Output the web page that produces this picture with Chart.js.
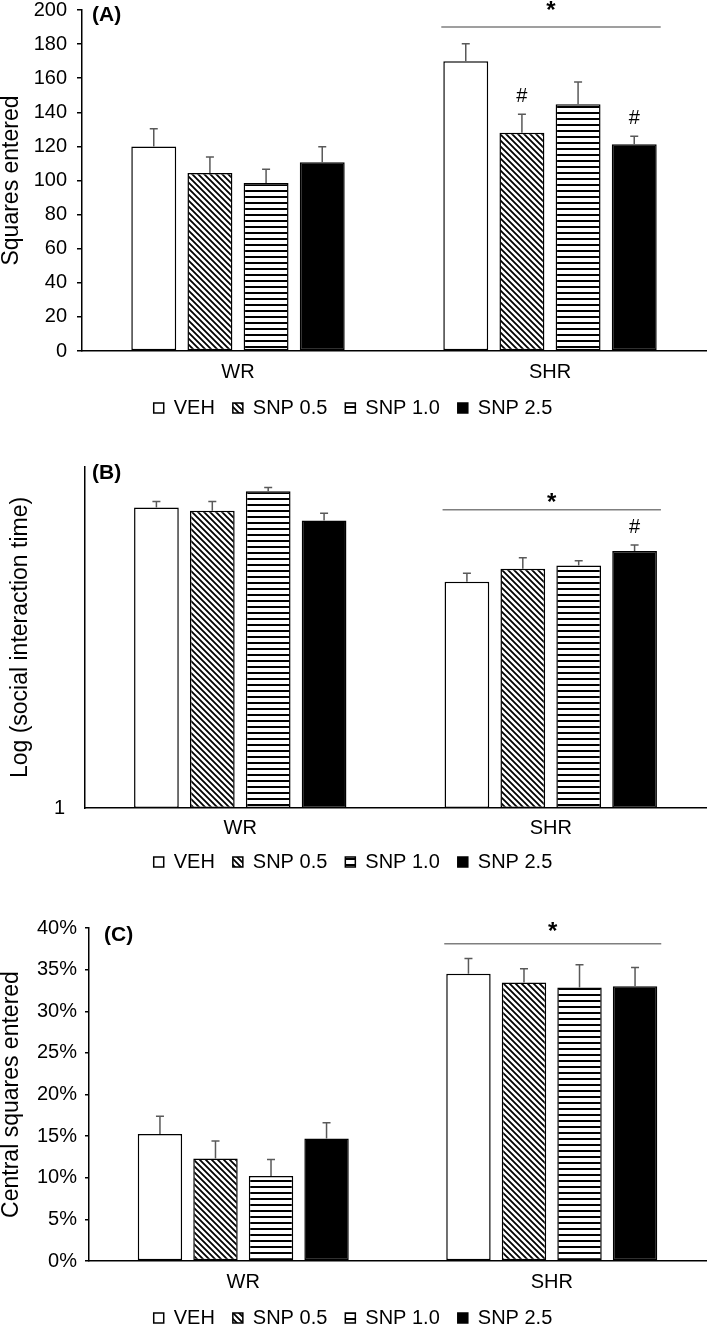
<!DOCTYPE html>
<html>
<head>
<meta charset="utf-8">
<script src="https://cdn.jsdelivr.net/npm/chart.js@4.4.0/dist/chart.umd.min.js"></script>
<style>
html, body { margin: 0; padding: 0; background: #fff; overflow: hidden; width: 709px; height: 1326px; }
.panel { position: absolute; left: 0; width: 709px; }
</style>
</head>
<body>
<div class="panel" style="top:0;height:428px"><canvas id="chartA" width="709" height="428"></canvas></div>
<div class="panel" style="top:428px;height:454px"><canvas id="chartB" width="709" height="454"></canvas></div>
<div class="panel" style="top:882px;height:456px"><canvas id="chartC" width="709" height="456"></canvas></div>
<script>
Chart.defaults.font.family = "'Liberation Sans', Arial, sans-serif";
Chart.defaults.color = '#000';
Chart.defaults.animation = false;

// Categories and series
const groups = ['WR', 'SHR'];
const seriesNames = ['VEH', 'SNP 0.5', 'SNP 1.0', 'SNP 2.5'];

// (A) Squares entered, [WR, SHR]
const squaresVEH = [120, 170];
const squaresSNP05 = [104.4, 128];
const squaresSNP10 = [98.5, 144.7];
const squaresSNP25 = [110.7, 121.2];
const squaresErr = [[10.4, 10.2], [9.4, 10.8], [8.1, 13.1], [9.1, 4.8]];

// (B) Social interaction time (log axis), [WR, SHR]
const socialVEH = [440, 98];
const socialSNP05 = [413, 127];
const socialSNP10 = [612, 136];
const socialSNP25 = [338, 182];
const socialErr = [[58, 18], [85, 32], [49, 14], [53, 24]];

// (C) Central squares entered (%), [WR, SHR]
const centralVEH = [15.25, 34.5];
const centralSNP05 = [12.3, 33.45];
const centralSNP10 = [10.2, 32.85];
const centralSNP25 = [14.7, 33.0];
const centralErr = [[2.15, 1.85], [2.1, 1.65], [2.0, 2.75], [1.9, 2.25]];

// Fill patterns for the bars
function makePattern(kind) {
    const c = document.createElement('canvas');
    const p = c.getContext('2d');
    c.width = 6; c.height = 6;
    p.fillStyle = '#fff';
    p.fillRect(0, 0, 6, 6);
    p.strokeStyle = '#000';
    if (kind === 'diag') {
        p.lineWidth = 1.8;
        p.beginPath();
        p.moveTo(-1, -1); p.lineTo(7, 7);
        p.moveTo(-4, 2); p.lineTo(2, 8);
        p.moveTo(2, -4); p.lineTo(8, 2);
        p.stroke();
    } else {
        p.fillStyle = '#000';
        p.fillRect(0, 4, 6, 2);
    }
    return p.createPattern(c, 'repeat');
}

const fills = ['#fff', makePattern('diag'), makePattern('horiz'), '#000'];

// error bars, significance line, markers and panel letter
const extrasPlugin = {
    id: 'extras',
    afterDatasetsDraw(chart, args, opts) {
        const {ctx, chartArea, scales: {y}} = chart;
        ctx.save();
        ctx.strokeStyle = '#595959';
        ctx.lineWidth = 1.5;
        opts.errors.forEach((errs, i) => {
            const vals = chart.data.datasets[i].data;
            chart.getDatasetMeta(i).data.forEach((bar, j) => {
                const top = y.getPixelForValue(vals[j] + errs[j]);
                ctx.beginPath();
                ctx.moveTo(bar.x, bar.y);
                ctx.lineTo(bar.x, top);
                ctx.moveTo(bar.x - 4, top);
                ctx.lineTo(bar.x + 4, top);
                ctx.stroke();
            });
        });

        // significance line over SHR group
        const first = chart.getDatasetMeta(0).data[1];
        const last = chart.getDatasetMeta(3).data[1];
        const x1 = first.x - first.width / 2 - 2;
        const x2 = last.x + last.width / 2 + 4;
        const ly = y.getPixelForValue(opts.sigValue);
        ctx.strokeStyle = '#7f7f7f';
        ctx.beginPath();
        ctx.moveTo(x1, ly);
        ctx.lineTo(x2, ly);
        ctx.stroke();

        ctx.fillStyle = '#000';
        ctx.textAlign = 'center';
        ctx.textBaseline = 'alphabetic';
        ctx.font = "bold 24px 'Liberation Sans', Arial, sans-serif";
        ctx.fillText('*', (x1 + x2) / 2, ly - opts.starOffset);

        ctx.font = "20px 'Liberation Sans', Arial, sans-serif";
        opts.hashes.forEach(([i, j]) => {
            const bar = chart.getDatasetMeta(i).data[j];
            const v = chart.data.datasets[i].data[j] + opts.errors[i][j];
            ctx.fillText('#', bar.x, y.getPixelForValue(v) - 12);
        });

        ctx.textAlign = 'left';
        ctx.textBaseline = 'middle';
        ctx.font = "bold 21px 'Liberation Sans', Arial, sans-serif";
        ctx.fillText(opts.letter, chartArea.left + opts.letterPos[0], chartArea.top + opts.letterPos[1]);
        ctx.restore();
    }
};

function makeDatasets(series) {
    return series.map((data, i) => ({
        label: seriesNames[i],
        data: data,
        backgroundColor: fills[i],
        borderColor: '#000',
        borderWidth: 1.5,
        borderSkipped: false,
        categoryPercentage: 0.72,
        barPercentage: 0.8
    }));
}

function makeChart(id, series, cfg) {
    return new Chart(document.getElementById(id), {
        type: 'bar',
        data: { labels: groups, datasets: makeDatasets(series) },
        plugins: [extrasPlugin],
        options: {
            responsive: false,
            events: [],
            layout: { padding: { top: cfg.padTop, right: 3, bottom: 0, left: 0 } },
            scales: {
                x: {
                    afterFit: s => { s.height = cfg.xHeight; },
                    border: { display: true, color: '#000', width: 1.5 },
                    grid: { display: true, drawOnChartArea: false, drawTicks: false },
                    ticks: { color: '#000', font: { size: 20 }, padding: cfg.xPad }
                },
                y: cfg.y
            },
            plugins: {
                legend: {
                    position: 'bottom',
                    labels: { boxWidth: 10, boxHeight: 10, padding: 18, color: '#000', font: { size: 20 } }
                },
                tooltip: { enabled: false },
                extras: cfg.extras
            }
        }
    });
}

function yTitle(text, pad) {
    return { display: true, text: text, color: '#000', font: { size: 23, lineHeight: 1 }, padding: { top: pad, bottom: 0 } };
}

// (A)
makeChart('chartA', [squaresVEH, squaresSNP05, squaresSNP10, squaresSNP25], {
    padTop: 10, xHeight: 29, xPad: 9,
    y: {
        min: 0, max: 200,
        afterFit: s => { s.width = 82; },
        border: { display: true, color: '#000', width: 1.5 },
        grid: { display: true, drawOnChartArea: false, drawTicks: true, tickLength: 5, color: '#000', lineWidth: 1.5 },
        ticks: { stepSize: 20, autoSkip: false, color: '#000', font: { size: 20, lineHeight: 0 }, padding: 10 },
        title: yTitle('Squares entered', 0)
    },
    extras: { errors: squaresErr, sigValue: 190, starOffset: 9, hashes: [[1, 1], [3, 1]], letter: '(A)', letterPos: [10, 5] }
});

// (B)
makeChart('chartB', [socialVEH, socialSNP05, socialSNP10, socialSNP25], {
    padTop: 39, xHeight: 26, xPad: 8,
    y: {
        type: 'logarithmic',
        min: 1, max: 1000,
        afterFit: s => { s.width = 85; },
        afterBuildTicks: s => { s.ticks = [{ value: 1 }]; },
        border: { display: true, color: '#000', width: 1.5 },
        grid: { display: false, drawTicks: false },
        ticks: { color: '#000', font: { size: 20, lineHeight: 1 }, padding: 20, callback: v => (v === 1 ? '1' : '') },
        title: yTitle('Log (social interaction time)', 9)
    },
    extras: { errors: socialErr, sigValue: 420, starOffset: 0, hashes: [[3, 1]], letter: '(B)', letterPos: [7, 6] }
});

// (C)
makeChart('chartC', [centralVEH, centralSNP05, centralSNP10, centralSNP25], {
    padTop: 46, xHeight: 29, xPad: 9,
    y: {
        min: 0, max: 40,
        afterFit: s => { s.width = 89; },
        border: { display: true, color: '#000', width: 1.5 },
        grid: { display: true, drawOnChartArea: false, drawTicks: true, tickLength: 4, color: '#000', lineWidth: 1.5 },
        ticks: { stepSize: 5, autoSkip: false, color: '#000', font: { size: 20, lineHeight: 1 }, padding: 8, callback: v => v + '%' },
        title: yTitle('Central squares entered', 0)
    },
    extras: { errors: centralErr, sigValue: 38.1, starOffset: 5, hashes: [], letter: '(C)', letterPos: [15, 7] }
});
</script>
</body>
</html>
